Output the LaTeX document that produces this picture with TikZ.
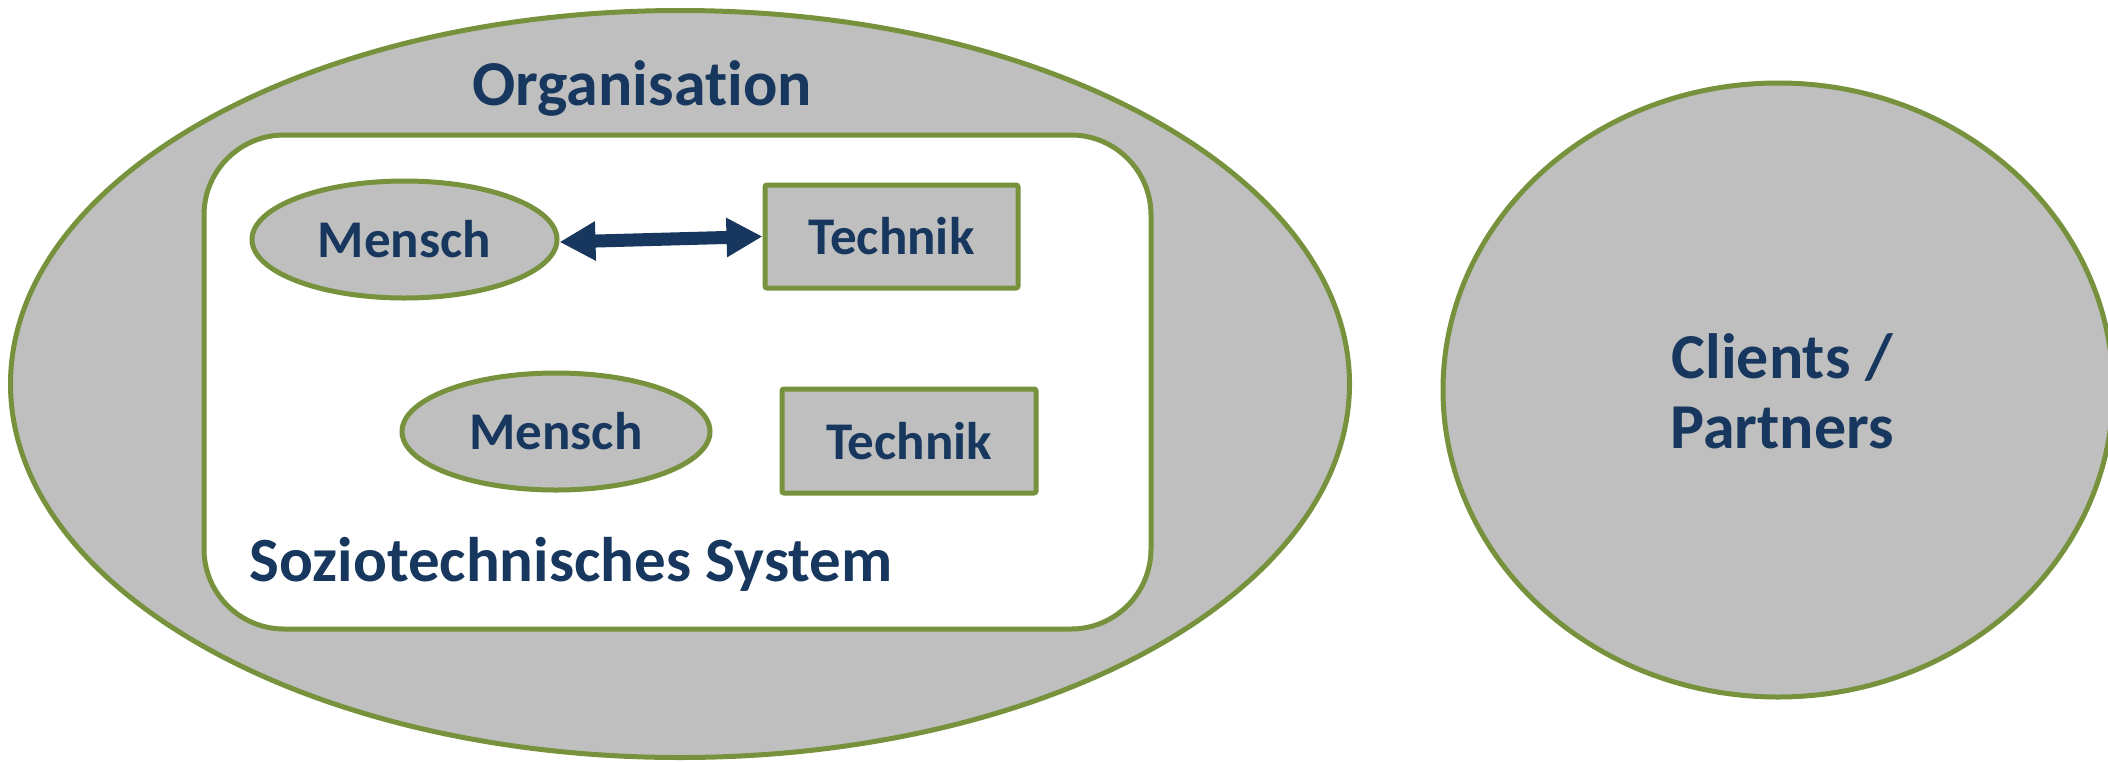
\documentclass[tikz,border=0pt]{standalone}
\usepackage{fontspec}
\setmainfont{Carlito}[Ligatures=NoCommon]
\usetikzlibrary{shapes.geometric,arrows.meta}
\definecolor{olive}{HTML}{76923C}
\definecolor{shade}{HTML}{BFBFBF}
\definecolor{navy}{HTML}{17375E}
\begin{document}
\begin{tikzpicture}[x=1pt,y=-1pt,
  outline/.style={draw=olive,line width=5pt},
  blob/.style={outline,fill=shade,ellipse,inner sep=0pt},
  techbox/.style={outline,fill=shade,rectangle,rounded corners=2pt,inner sep=0pt,
    minimum width=253pt,minimum height=103pt},
  lbl/.style={text=navy,font=\bfseries\fontsize{53pt}{60pt}\selectfont},
  biglbl/.style={text=navy,font=\bfseries\fontsize{64pt}{72pt}\selectfont},
  link/.style={draw=navy,line width=13pt,{Triangle[length=36pt,width=37pt]}-{Triangle[length=36pt,width=37pt]}}
]
\useasboundingbox (0,0) rectangle (2108,761);
\begin{scope}
\clip (0,0) rectangle (2108,761);
% organisation and outside world
\node[blob,minimum width=1339pt,minimum height=747pt] (org) at (680,384) {};
\node[blob,minimum width=670pt,minimum height=614pt] (clients) at (1778,390) {};
\end{scope}
\node[biglbl,anchor=base] (orglbl) at (642,105) {Organisation};
\node[biglbl,align=center] (clientslbl) at (1782,391) {Clients /\\[-2pt]Partners};
% sociotechnical system
\node[outline,fill=white,rectangle,rounded corners=80pt,minimum width=947pt,
  minimum height=494pt,inner sep=0pt] (sts) at (677.5,382) {};
\node[biglbl,anchor=base west,font=\bfseries\fontsize{63pt}{72pt}\selectfont] (stslbl) at (246,581) {Soziotechnisches System};
% people and technology
\node[blob,minimum width=305pt,minimum height=117pt,lbl] (m1) at (404.5,239.5) {Mensch};
\node[techbox,lbl] (t1) at (891.5,236.5) {Technik};
\node[blob,minimum width=308pt,minimum height=117pt,lbl] (m2) at (556,431.5) {Mensch};
\node[techbox,minimum width=254pt,minimum height=104pt,lbl] (t2) at (909,441) {Technik};
% interaction
\draw[link] ([yshift=-2.5pt]m1.east) -- (t1.west);
\end{tikzpicture}
\end{document}
